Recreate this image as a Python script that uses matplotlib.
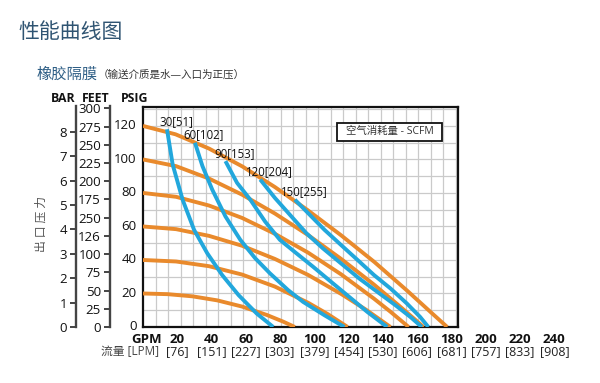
import numpy as np
import matplotlib
matplotlib.use('Agg')
import matplotlib.pyplot as plt
from matplotlib.patches import Rectangle

# ---------------- data ----------------
# orange: outlet pressure vs flow for each inlet air pressure (PSIG)
air_pressures = [120, 100, 80, 60, 40, 20]
orange_x = {
    120: [0, 19, 38.5, 58, 77, 96, 115.5, 135, 154, 168.5, 177.5],
    100: [0, 19.3, 38.5, 57.8, 77, 96.3, 115.5, 134.8, 149.2, 158.8, 163.7],
    80:  [0, 19.3, 38.5, 57.8, 77, 96.3, 115.5, 134.8, 144.4, 155],
    60:  [0, 19.3, 38.5, 57.8, 77, 96.3, 115.5, 130, 144.4],
    40:  [0, 19.3, 38.5, 57.8, 77, 96.3, 107.8, 119.4],
    20:  [0, 14.4, 28.9, 43.3, 57.8, 72.2, 81.8, 88.6],
}
orange_y = {
    120: [120, 115, 106.5, 95.8, 83.5, 69.8, 54.8, 38.8, 21.8, 8.3, 0],
    100: [100, 96, 88.6, 79, 67.7, 54.9, 40.7, 25.3, 12.9, 4.4, 0],
    80:  [80, 77.7, 72.5, 65.1, 55.6, 44.4, 31.5, 16.9, 9.1, 0],
    60:  [60, 58.4, 54.4, 48.5, 40.6, 31.1, 19.8, 10.4, 0],
    40:  [40, 39.1, 36.3, 31.3, 24.1, 14.5, 7.7, 0],
    20:  [20, 19.6, 18.3, 15.9, 12.2, 7.2, 3.2, 0],
}
# blue: air consumption curves (SCFM [Nm3/h])
air_labels = ['30[51]', '60[102]', '90[153]', '120[204]', '150[255]']
blue_x = [
    [14, 17.3, 23.1, 29.8, 37.5, 46.2, 55.8, 66.4, 76],
    [30.3, 34.7, 40.4, 48.1, 56.8, 65.5, 74.1, 84.7, 93.4, 105.9, 117.5],
    [48.1, 54.9, 62.6, 71.2, 79.9, 89.5, 99.2, 109.7, 120.3, 130.9, 142.5],
    [68.4, 77, 85.7, 95.3, 104.9, 115.5, 126.1, 136.7, 147.3, 156, 162.7],
    [88.6, 96.3, 105.9, 115.5, 125.2, 134.8, 144.4, 154, 161.7, 166.5],
]
blue_y = [
    [118, 97, 76, 58, 44, 31, 19, 8, 0],
    [110, 96, 82, 66, 52, 41, 32, 22, 15, 7, 0],
    [99, 86, 76, 63, 52, 44, 36, 27, 18, 9, 0],
    [88, 77, 67, 56, 47, 38, 29, 21, 13, 6, 0],
    [76, 68, 58, 49, 40, 31, 23, 14, 6, 0],
]
gpm_ticks = [20, 40, 60, 80, 100, 120, 140, 160, 180, 200, 220, 240]
lpm_labels = ['[76]', '[151]', '[227]', '[303]', '[379]', '[454]', '[530]',
              '[606]', '[681]', '[757]', '[833]', '[908]']
psig_ticks = [0, 20, 40, 60, 80, 100, 120]
bar_ticks = [0, 1, 2, 3, 4, 5, 6, 7, 8]
feet_ticks = [0, 25, 50, 75, 100, 125, 150, 175, 200, 225, 250, 275, 300]
feet_labels = ['0', '25', '50', '75', '100', '126', '250', '175', '200',
               '225', '250', '275', '300']

# ---------------- style ----------------
plt.rcParams['font.family'] = ['Open Sans', 'Noto Sans CJK SC', 'DejaVu Sans']
ORANGE = '#E98A2C'
BLUE = '#22A7DC'
W, H = 600, 383
fig = plt.figure(figsize=(6, 3.83), dpi=100)


def px_box(l, t, r, b):
    return [l / W, 1 - b / H, (r - l) / W, (b - t) / H]


L, T, R, B = 143, 107, 458, 327
XMAX, YMAX = 183.8, 131.3
ax = fig.add_axes(px_box(L, T, R, B))
ax.set_xlim(0, XMAX)
ax.set_ylim(0, YMAX)

# grid
ax.set_xticks(np.arange(7.3, XMAX, 7.3))
ax.set_xticklabels([])
ax.tick_params(axis='x', length=0)
ax.set_yticks(np.arange(10, YMAX, 10))
ax.grid(True, color='#cacaca', lw=0.9)
ax.set_axisbelow(True)
for s in ax.spines.values():
    s.set_linewidth(1.6)
    s.set_color('#111111')

# PSIG labels
ax.tick_params(axis='y', length=0, labelleft=False)
ytr = ax.get_yaxis_transform()
for v in psig_ticks:
    ax.text(-0.02, v, str(v), transform=ytr, ha='right', va='center',
            fontsize=9.5, color='#111111', clip_on=False)

for p in air_pressures:
    ax.plot(orange_x[p], orange_y[p], color=ORANGE, lw=2.8,
            solid_capstyle='butt', zorder=3)
for xs, ys, lab in zip(blue_x, blue_y, air_labels):
    ax.plot(xs, ys, color=BLUE, lw=2.8, solid_capstyle='butt', zorder=4)
    ax.annotate(lab, (xs[0], ys[0]), xytext=(6.5, 5.5),
                textcoords='offset points', ha='center', va='center',
                fontsize=8.3, color='#111111', zorder=5)

# x labels (GPM and LPM) incl. beyond the frame
xtr = ax.get_xaxis_transform()
for g, l in zip(gpm_ticks, lpm_labels):
    ax.text(g, -0.056, str(g), transform=xtr, ha='center', va='center',
            fontsize=9.5, fontweight='bold', color='#111111', clip_on=False)
    ax.text(g, -0.112, l, transform=xtr, ha='center', va='center',
            fontsize=9, color='#222222', clip_on=False)
ax.text(2.2, -0.056, 'GPM', transform=xtr, ha='center', va='center',
        fontsize=9.5, fontweight='bold', color='#111111', clip_on=False)
ax.text(-7.6, -0.112, '流量 [LPM]', transform=xtr, ha='center', va='center',
        fontsize=8.5, color='#444444', clip_on=False)


# BAR and FEET scales
def side_axis(xpx, ymax, ticks, labels):
    a = fig.add_axes(px_box(xpx, T - 1, xpx + 1, B))
    a.set_ylim(0, ymax)
    a.patch.set_visible(False)
    for k in ('right', 'top', 'bottom'):
        a.spines[k].set_visible(False)
    a.spines['left'].set_linewidth(1.7)
    a.spines['left'].set_color('#444444')
    a.set_xticks([])
    a.set_yticks(ticks)
    a.set_yticklabels(labels)
    a.tick_params(axis='y', direction='out', length=4.5, width=1.4,
                  color='#444444', pad=2, labelsize=9.5, labelcolor='#111111')
    return a


side_axis(76, YMAX / 14.5, bar_ticks, [str(b) for b in bar_ticks])
side_axis(110, YMAX * 2.31, feet_ticks, feet_labels)

# headers
for txt, cx in [('BAR', 63.5), ('FEET', 96), ('PSIG', 135)]:
    fig.text(cx / W, 1 - 98 / H, txt, ha='center', va='center',
             fontsize=8.8, fontweight='bold', color='#111111')

fig.text(41 / W, 1 - 224 / H, '出 口 压 力', rotation=90, ha='center',
         va='center', fontsize=8.5, color='#555555')

# titles
fig.text(18 / W, 1 - 33 / H, '性能曲线图', ha='left', va='center',
         fontsize=15, color='#2f5472')
fig.text(37 / W, 1 - 75 / H, '橡胶隔膜', ha='left', va='center',
         fontsize=11, color='#2f5f86')
fig.text(98 / W, 1 - 75 / H, '（输送介质是水—入口为正压）', ha='left',
         va='center', fontsize=7.6, color='#333333')

# legend box
fig.add_artist(Rectangle((337 / W, 1 - 141 / H), 105 / W, 18 / H,
                         transform=fig.transFigure, facecolor='white',
                         edgecolor='#111111', lw=1.3, zorder=5))
fig.text(389.5 / W, 1 - 132 / H, '空气消耗量 - SCFM', ha='center',
         va='center', fontsize=7.5, color='#333333', zorder=6)

fig.savefig('out.png', dpi=100)
